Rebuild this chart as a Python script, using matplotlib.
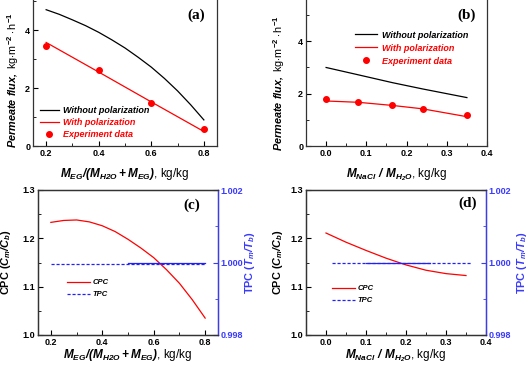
import numpy as np
import matplotlib.pyplot as plt
from matplotlib.ticker import MultipleLocator, FormatStrFormatter

plt.rcParams['font.family'] = 'Liberation Sans'
plt.rcParams['font.weight'] = 'bold'
plt.rcParams['mathtext.fontset'] = 'custom'
plt.rcParams['mathtext.rm'] = 'Liberation Sans'
plt.rcParams['mathtext.it'] = 'Liberation Sans:italic'
plt.rcParams['mathtext.bf'] = 'Liberation Sans:bold'
plt.rcParams['mathtext.bfit'] = 'Liberation Sans:italic:bold'
plt.rcParams['xtick.direction'] = 'in'
plt.rcParams['ytick.direction'] = 'in'

# (a) EG
x_eg = [0.2, 0.25, 0.3, 0.35, 0.4, 0.45, 0.5, 0.55, 0.6, 0.65, 0.7, 0.75, 0.8]
flux_nopol_a = [4.70, 4.54, 4.35, 4.15, 3.92, 3.66, 3.38, 3.06, 2.72, 2.33, 1.90, 1.42, 0.90]
x_pol_a = [0.2, 0.4, 0.6, 0.8]
flux_pol_a = [3.57, 2.55, 1.52, 0.50]
x_exp_a = [0.2, 0.4, 0.6, 0.8]
flux_exp_a = [3.45, 2.62, 1.50, 0.57]

# (b) NaCl
x_nacl = [0.0, 0.08, 0.165, 0.24, 0.35]
flux_nopol_b = [3.00, 2.72, 2.42, 2.18, 1.85]
flux_pol_b = [1.72, 1.67, 1.55, 1.42, 1.12]
flux_exp_b = [1.78, 1.70, 1.55, 1.42, 1.18]

# (c) polarization coefficients, EG
x_cpc_c = [0.2, 0.25, 0.3, 0.35, 0.4, 0.45, 0.5, 0.55, 0.6, 0.65, 0.7, 0.75, 0.8]
cpc_c = [1.233, 1.237, 1.238, 1.234, 1.226, 1.214, 1.198, 1.180, 1.160, 1.135, 1.107, 1.073, 1.035]
x_tpc_c = [0.2, 0.8]
tpc_c = [0.99996, 0.99996]
x_tpc_c_solid = [0.5, 0.8]
tpc_c_solid = [1.0, 1.0]

# (d) polarization coefficients, NaCl
x_cpc_d = [0.0, 0.05, 0.1, 0.15, 0.2, 0.25, 0.3, 0.35]
cpc_d = [1.211, 1.192, 1.175, 1.159, 1.145, 1.134, 1.127, 1.123]
x_tpc_d = [0.015, 0.365]
tpc_d = [1.0, 1.0]
x_tpc_d_solid = [0.1, 0.26]
tpc_d_solid = [1.0, 1.0]

W, H = 531, 367
fig = plt.figure(figsize=(W / 100, H / 100), dpi=100)


def px_axes(l, r, t, b):
    return fig.add_axes([l / W, 1 - b / H, (r - l) / W, (b - t) / H])


blue = '#3a3aff'
tick_fs = 6.5
lab_fs = 8.5
ylab_fs = 7.8
leg_fs = 6.5


def style(ax):
    ax.tick_params(which='both', top=False, right=False, labelsize=tick_fs, pad=2)
    ax.tick_params(which='major', length=3.5, width=0.8)
    ax.tick_params(which='minor', length=2, width=0.6)
    for s in ax.spines.values():
        s.set_linewidth(0.9)
        s.set_color('#333333')
    for lb in ax.get_xticklabels() + ax.get_yticklabels():
        lb.set_fontweight('bold')


xlab_eg = r'$\mathbfit{M_{EG}/(M_{H2O}+M_{EG})}$, kg/kg'
xlab_nacl = r'$\mathbfit{M_{NaCl}\ /\ M_{H_2O}}$, kg/kg'
ylab_flux = r'$\mathbfit{Permeate\ flux,}$ kg$\cdot$m$^{-2}\cdot$h$^{-1}$'

# ---- (a)
ax = px_axes(33, 217, -13.5, 146)
ax.plot(x_eg, flux_nopol_a, color='black', lw=0.9, label='Without polarization')
ax.plot(x_pol_a, flux_pol_a, color='red', lw=0.9, label='With polarization')
ax.plot(x_exp_a, flux_exp_a, 'o', color='red', ms=4, label='Experiment data')
ax.set_xlim(0.15, 0.85)
ax.set_ylim(0, 5.5)
ax.xaxis.set_major_locator(MultipleLocator(0.2))
ax.xaxis.set_minor_locator(MultipleLocator(0.1))
ax.yaxis.set_major_locator(MultipleLocator(2))
ax.yaxis.set_minor_locator(MultipleLocator(1))
style(ax)
ax.set_xlabel(xlab_eg, fontsize=lab_fs, fontweight='normal')
ax.set_ylabel(ylab_flux, fontsize=ylab_fs, fontweight='normal')
ax.xaxis.set_label_coords(0.5, -0.125)
ax.yaxis.set_label_coords(-0.065, 0.41)
leg = ax.legend(loc='lower left', bbox_to_anchor=(0.038, 0.044), frameon=False,
                borderaxespad=0, borderpad=0,
                prop={'size': leg_fs, 'weight': 'bold', 'style': 'italic'},
                handlelength=2.1, handletextpad=0.45, labelspacing=0.35)
for t, c in zip(leg.get_texts(), ['black', 'red', 'red']):
    t.set_color(c)
fig.text(196 / W, 1 - 15 / H, '(a)', family='Liberation Serif', weight='bold',
         fontsize=11, ha='center', va='center')

# ---- (b)
ax = px_axes(306, 487, -8.4, 146)
ax.plot(x_nacl, flux_nopol_b, color='black', lw=0.9, label='Without polarization')
ax.plot(x_nacl, flux_pol_b, color='red', lw=0.9, label='With polarization')
ax.plot(x_nacl, flux_exp_b, 'o', color='red', ms=4, label='Experiment data')
ax.set_xlim(-0.05, 0.4)
ax.set_ylim(0, 5.9)
ax.xaxis.set_major_locator(MultipleLocator(0.1))
ax.xaxis.set_minor_locator(MultipleLocator(0.05))
ax.xaxis.set_major_formatter(FormatStrFormatter('%.1f'))
ax.yaxis.set_major_locator(MultipleLocator(2))
ax.yaxis.set_minor_locator(MultipleLocator(1))
style(ax)
ax.set_xlabel(xlab_nacl, fontsize=lab_fs, fontweight='normal')
ax.set_ylabel(ylab_flux, fontsize=ylab_fs, fontweight='normal')
ax.xaxis.set_label_coords(0.5, -0.13)
ax.yaxis.set_label_coords(-0.105, 0.41)
leg = ax.legend(loc='upper left', bbox_to_anchor=(0.27, 0.748), frameon=False,
                borderaxespad=0, borderpad=0,
                prop={'size': leg_fs, 'weight': 'bold', 'style': 'italic'},
                handlelength=2.5, handletextpad=0.45, labelspacing=0.45)
for t, c in zip(leg.get_texts(), ['black', 'red', 'red']):
    t.set_color(c)
fig.text(467 / W, 1 - 15 / H, '(b)', family='Liberation Serif', weight='bold',
         fontsize=11, ha='center', va='center')

# ---- (c) and (d)
panels = [
    (38, 218, x_cpc_c, cpc_c, x_tpc_c, tpc_c, x_tpc_c_solid, tpc_c_solid,
     (0.15, 0.85), 0.2, 0.1, xlab_eg, '(c)', 192, 205, -0.14, 1.14, (0.161, 0.386)),
    (306, 486, x_cpc_d, cpc_d, x_tpc_d, tpc_d, x_tpc_d_solid, tpc_d_solid,
     (-0.05, 0.4), 0.1, 0.05, xlab_nacl, '(d)', 468, 203, -0.117, 1.16, (0.144, 0.345)),
]
for (l, r, xc, yc, xt, yt, xs, ys, xlim, maj, mnr, xlab, tag, tx, ty,
     ylx, y2x, legpos) in panels:
    ax = px_axes(l, r, 190, 335)
    ax2 = ax.twinx()
    ln1, = ax.plot(xc, yc, color='red', lw=0.9, label='CPC')
    ln2, = ax2.plot(xt, yt, color='#2020ff', lw=0.9, ls=(0, (2.5, 1.5)), label='TPC')
    ax2.plot(xs, ys, color='#2020ff', lw=0.9)
    ax.set_xlim(*xlim)
    ax.set_ylim(1.0, 1.3)
    ax2.set_ylim(0.998, 1.002)
    ax.xaxis.set_major_locator(MultipleLocator(maj))
    ax.xaxis.set_minor_locator(MultipleLocator(mnr))
    ax.xaxis.set_major_formatter(FormatStrFormatter('%.1f'))
    ax.yaxis.set_major_locator(MultipleLocator(0.1))
    ax.yaxis.set_minor_locator(MultipleLocator(0.05))
    ax2.yaxis.set_minor_locator(MultipleLocator(0.001))
    ax2.yaxis.set_major_locator(MultipleLocator(0.002))
    ax2.yaxis.set_major_formatter(FormatStrFormatter('%.3f'))
    style(ax)
    ax2.tick_params(which='both', direction='in', colors=blue, labelsize=tick_fs, pad=2)
    ax2.tick_params(which='major', length=3.5, width=0.8)
    ax2.tick_params(which='minor', length=2, width=0.6)
    for s in ax2.spines.values():
        s.set_linewidth(0.9)
        s.set_color('#333333')
    ax2.spines['right'].set_color(blue)
    for lb in ax2.get_yticklabels():
        lb.set_fontweight('bold')
    ax.set_xlabel(xlab, fontsize=lab_fs, fontweight='normal')
    ax.xaxis.set_label_coords(0.5, -0.083)
    ax.set_ylabel(r'$\mathbf{CPC\ (}\mathbfit{C_m/C_b}\mathbf{)}$', fontsize=ylab_fs)
    ax2.set_ylabel(r'$\mathbf{TPC\ (}\mathbfit{T_m/T_b}\mathbf{)}$', fontsize=ylab_fs, color=blue)
    ax.yaxis.set_label_coords(ylx, 0.5)
    ax2.yaxis.set_label_coords(y2x, 0.5)
    leg = ax.legend([ln1, ln2], ['CPC', 'TPC'], loc='upper left',
                    bbox_to_anchor=legpos, frameon=False,
                    borderaxespad=0, borderpad=0,
                    prop={'size': 5.5, 'weight': 'bold', 'style': 'italic'},
                    handlelength=3.0, handletextpad=0.3, labelspacing=0.6)
    fig.text(tx / W, 1 - ty / H, tag, family='Liberation Serif', weight='bold',
             fontsize=11, ha='center', va='center')

fig.savefig('out.png', dpi=100)
